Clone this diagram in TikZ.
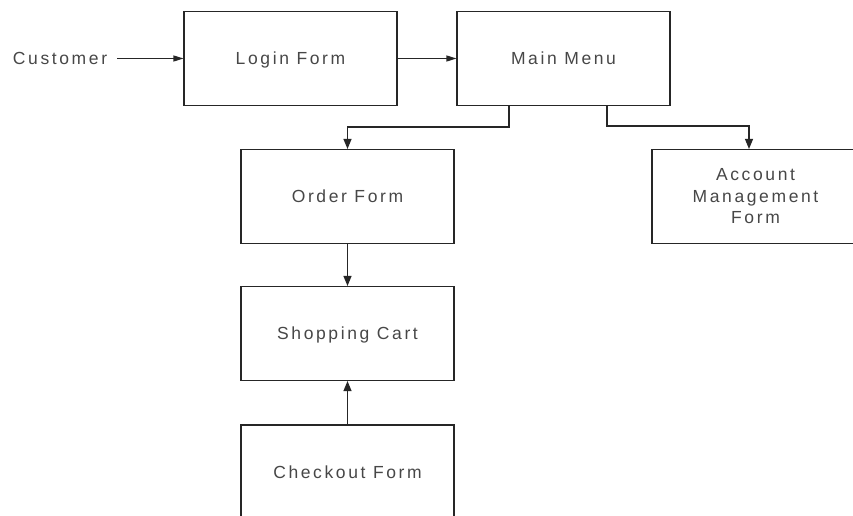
\documentclass[tikz,border=0pt]{standalone}
\usepackage{fontspec}
\setmainfont{Liberation Sans}[LetterSpace=15]
\usetikzlibrary{arrows.meta}
\tikzset{
  box/.style={draw=black!85, line width=1.1pt, minimum width=213pt, minimum height=94pt,
    inner sep=0pt, text=black!72, align=center, font=\fontsize{17.5}{21.5}\selectfont},
  onebox/.style={box, text depth=0pt},
  label/.style={text=black!72, inner ysep=0pt, inner xsep=10pt, font=\fontsize{17.5}{21.5}\selectfont},
  conn/.style={draw=black!85, line width=1.1pt},
  harrow/.style={conn, -{Triangle[length=10pt,width=6pt]}},
  varrow/.style={conn, -{Triangle[length=10pt,width=8pt]}}
}
\begin{document}
\begin{tikzpicture}[x=1pt,y=-1pt]
\useasboundingbox[fill=white] (0,0) rectangle (853,516);
\clip (0,0) rectangle (853,516);
\node[label] (customer) at (60,58.5) {Customer};
\node[onebox] (login) at (290.5,58.5) {Login Form};
\node[onebox] (main) at (563.5,58.5) {Main Menu};
\node[onebox] (order) at (347.5,196.5) {Order Form};
\node[onebox] (cart) at (347.5,333.5) {Shopping Cart};
\node[onebox] (checkout) at (347.5,472) {Checkout Form};
\node[box, minimum width=207pt] (account) at (755.5,196.5) {Account\\Management\\Form};
\coordinate (j1) at (509,127);
\coordinate (j2) at (607,126);
\draw[harrow] (customer.east) -- (login.west);
\draw[harrow] (login.east) -- (main.west);
\draw[varrow] (main.south -| j1) -- (j1) -| (order.north);
\draw[varrow] (main.south -| j2) -- (j2) -| ([xshift=-6.5pt]account.north);
\draw[varrow] (order.south) -- (cart.north);
\draw[varrow] (checkout.north) -- (cart.south);
\end{tikzpicture}
\end{document}
